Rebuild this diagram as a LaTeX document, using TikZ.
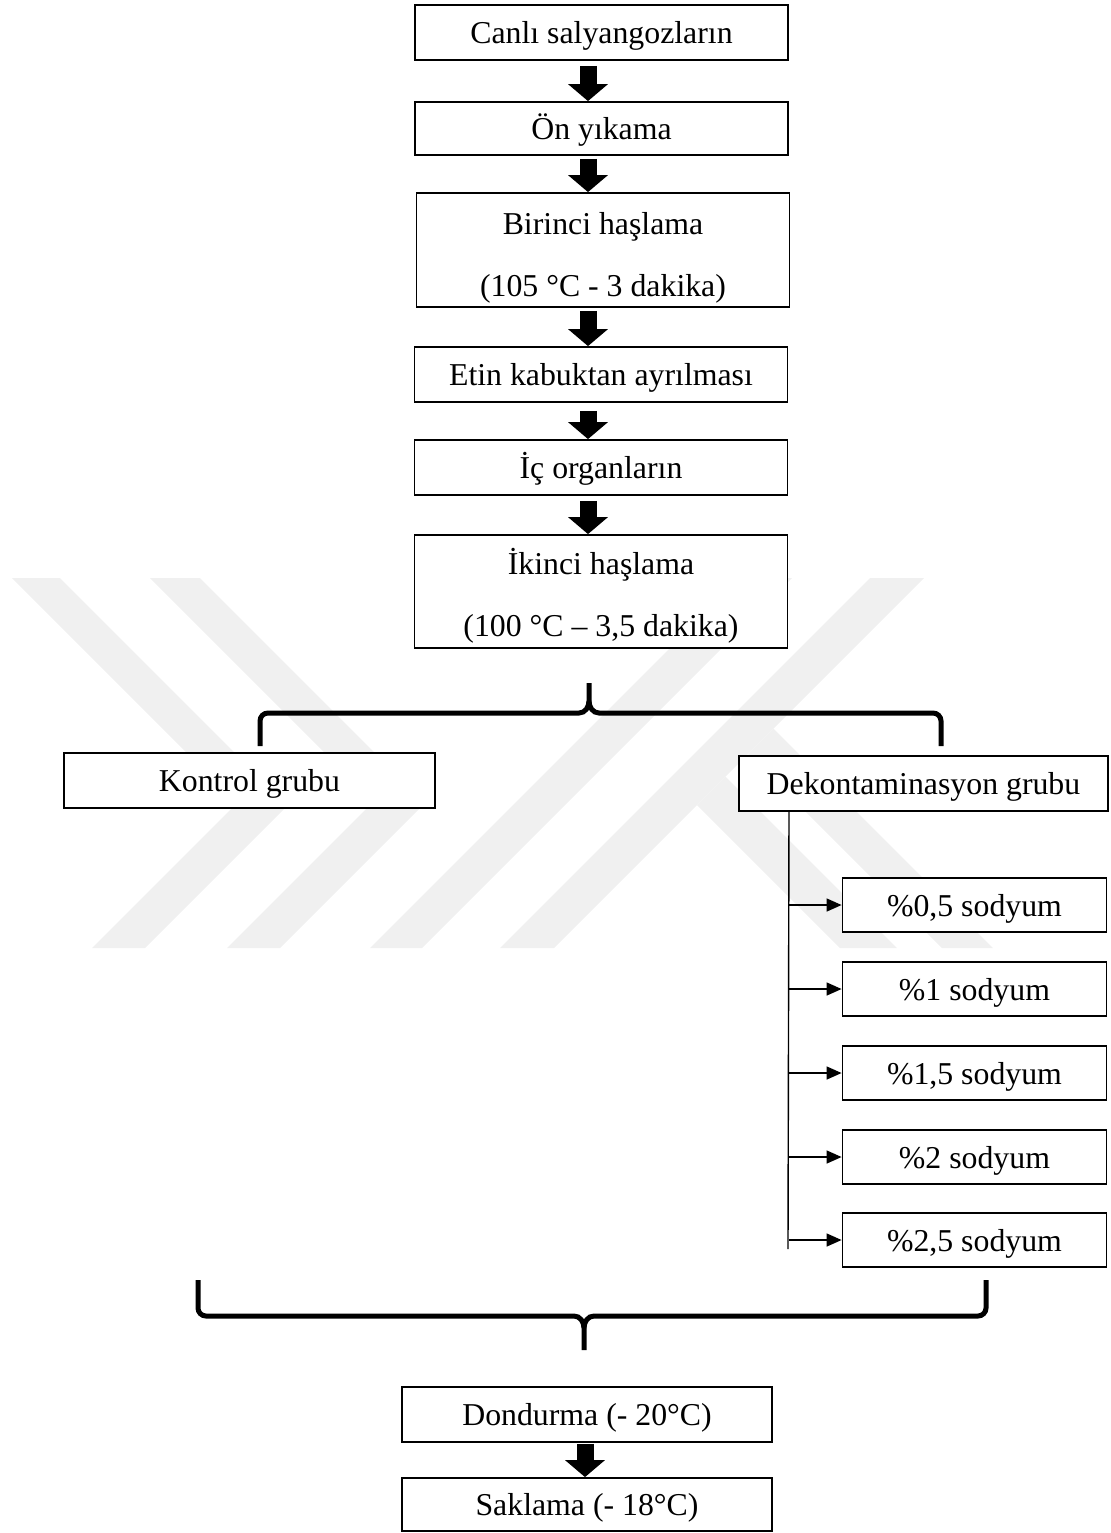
\documentclass[tikz,border=0pt]{standalone}
\usepackage{fontspec}
\setmainfont{Liberation Serif}
\usetikzlibrary{arrows.meta}

\begin{document}
\begin{tikzpicture}[x=0.5pt,y=-0.5pt,
    tallbox/.style={draw,line width=0.9pt,fill=white,rectangle,minimum width=186.5pt,minimum height=27.5pt,inner sep=0pt,align=center,font=\fontsize{15.9}{31}\selectfont},
    box/.style={tallbox,text height=14.5pt,text depth=3.5pt},
    subbox/.style={box,minimum width=132pt,minimum height=27pt},
    bigarrow/.style={line width=8.5pt,-{Triangle[width=19.5pt,length=8.5pt]}},
    smallarrow/.style={line width=0.7pt,-{Triangle[width=6.5pt,length=7.5pt]}},
    brace/.style={line width=2.5pt},
    wmark/.style={fill=black!6,draw=none}]
    \useasboundingbox (0,0) rectangle (1110,1533);

    % watermark
    \fill[wmark] (12,578) -- (60,578) -- (287.5,805.5) -- (145,948) -- (92,948) -- (237,803) -- cycle;
    \fill[wmark] (150,578) -- (200,578) -- (425,803) -- (280,948) -- (227,948) -- (373.5,801.5) -- cycle;
    \fill[wmark] (370,948) -- (422,948) -- (792,578) -- (740,578) -- cycle;
    \fill[wmark] (500,948) -- (554,948) -- (924,578) -- (870,578) -- cycle;
    \fill[wmark] (725.5,776.5) -- (897,948) -- (840,948) -- (697,805) -- cycle;
    \fill[wmark] (773.5,728.5) -- (993,948) -- (942,948) -- (748,754) -- cycle;

    \node[box] (canli) at (601.5,32.5) {Canlı salyangozların};
    \node[box,minimum height=26.5pt] (onyik) at (601.5,128.5) {Ön yıkama};
    \node[tallbox,minimum height=57pt] (birinci) at (603,250) {\rule{0pt}{19pt}Birinci haşlama\\(105 °C - 3 dakika)};
    \node[box] (etin) at (601,374.5) {Etin kabuktan ayrılması};
    \node[box] (ic) at (601,467.5) {İç organların};
    \node[tallbox,minimum height=56.5pt] (ikinci) at (601,591.5) {\rule{0pt}{17.5pt}İkinci haşlama\\(100 °C – 3,5 dakika)};

    \node[box,minimum width=185.5pt] (kontrol) at (249.5,780.5) {Kontrol grubu};
    \node[box,minimum width=184.5pt] (dekon) at (923.5,783.5) {Dekontaminasyon grubu};

    \node[subbox] (s05) at (974.5,905) {\%0,5 sodyum};
    \node[subbox] (s1) at (974.5,989) {\%1 sodyum};
    \node[subbox] (s15) at (974.5,1073) {\%1,5 sodyum};
    \node[subbox] (s2) at (974.5,1157) {\%2 sodyum};
    \node[subbox] (s25) at (974.5,1240) {\%2,5 sodyum};

    \node[box,minimum width=185pt] (dond) at (587,1414.5) {Dondurma (- 20°C)};
    \node[box,minimum width=185pt,minimum height=26.5pt] (sakl) at (587,1504.5) {Saklama (- 18°C)};

    \coordinate (spine) at (588,0);
    \coordinate (spinelow) at (585,0);
    \draw[bigarrow,shorten <=2.5pt] (canli.south -| spine) -- (onyik.north -| spine);
    \draw[bigarrow,shorten <=1.5pt] (onyik.south -| spine) -- (birinci.north -| spine);
    \draw[bigarrow,shorten <=1.5pt] (birinci.south -| spine) -- (etin.north -| spine);
    \draw[bigarrow,shorten <=4pt] (etin.south -| spine) -- (ic.north -| spine);
    \draw[bigarrow,shorten <=2.5pt] (ic.south -| spine) -- (ikinci.north -| spine);
    \draw[bigarrow,shorten <=0.5pt] (dond.south -| spinelow) -- (sakl.north -| spinelow);

    % upper brace
    \coordinate (uptip) at (589,683);
    \draw[brace] (260,746) -- (260,721) to[out=90,in=180] (268,713) -- (579,713)
        to[out=0,in=-90] (589,701) -- (uptip);
    \draw[brace] (941,746) -- (941,721) to[out=90,in=0] (933,713) -- (599,713)
        to[out=180,in=-90] (589,701);

    % lower brace
    \coordinate (lowtip) at (584,1350);
    \draw[brace] (198,1280) -- (198,1308) to[out=-90,in=180] (206,1316) -- (574,1316)
        to[out=0,in=90] (584,1328) -- (lowtip);
    \draw[brace] (986,1280) -- (986,1308) to[out=-90,in=0] (978,1316) -- (594,1316)
        to[out=180,in=90] (584,1328);

    % branches of the second group
    \coordinate (branch) at (789,811);
    \coordinate (branchend) at (788,1249);
    \draw[line width=0.7pt] (branch) -- (branchend);
    \foreach \s in {s05,s1,s15,s2,s25}
        \draw[smallarrow] (branch |- \s.west) -- (\s.west);
\end{tikzpicture}
\end{document}
